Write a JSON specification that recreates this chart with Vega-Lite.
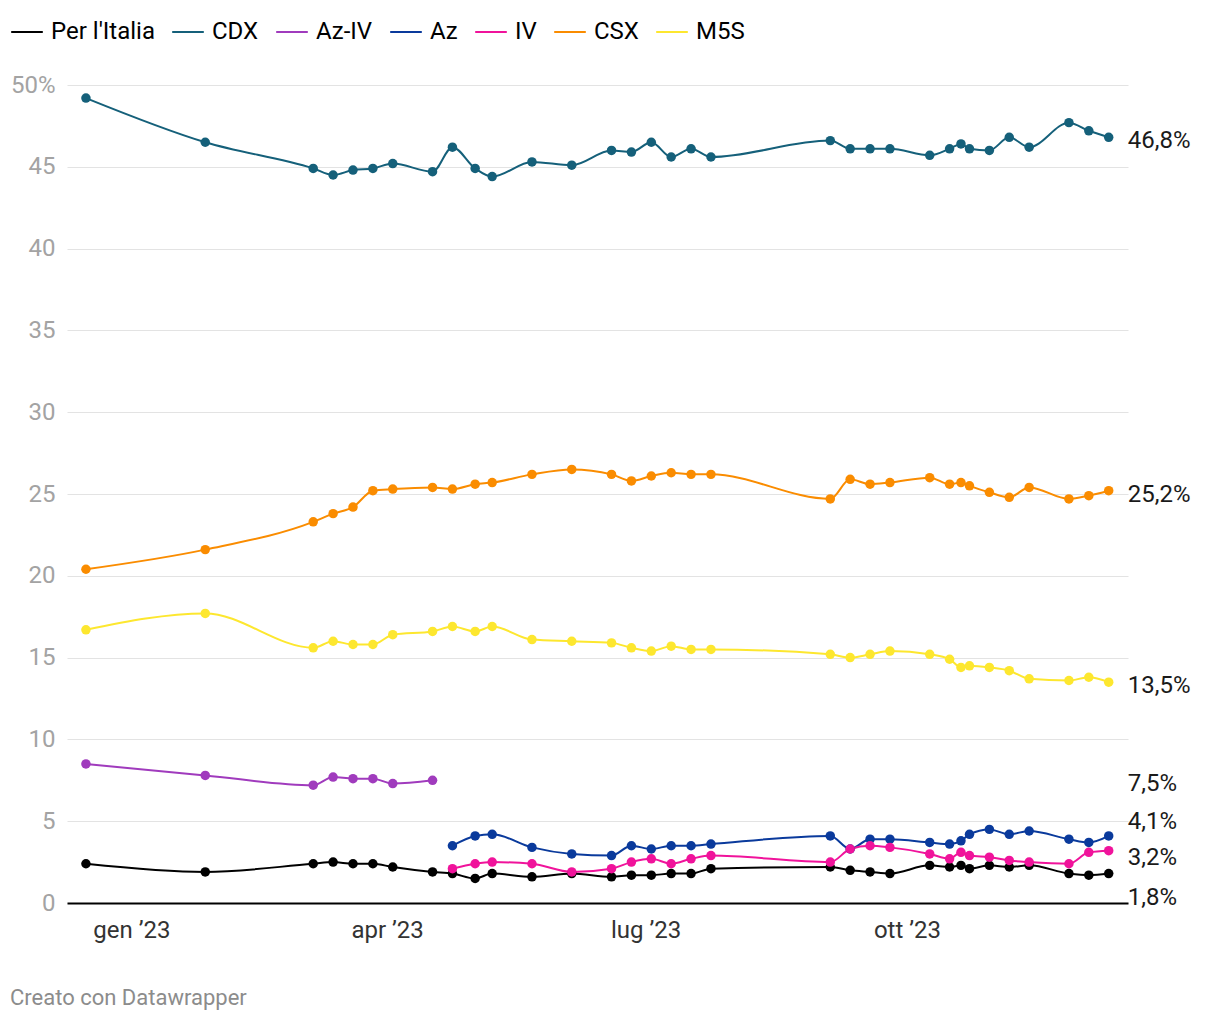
{
"$schema": "https://vega.github.io/schema/vega-lite/v6.json",
"width": 1061, "height": 818,
"autosize": {"type": "none"},
"padding": {"left": 67, "top": 85, "right": 92, "bottom": 117},
"background": "#ffffff",
"title": {"text": "Creato con Datawrapper", "orient": "bottom", "anchor": "start", "frame": "bounds", "fontSize": 22, "fontWeight": "normal", "color": "#8c8c8c", "font": "Roboto", "offset": 46},
"data": {"values": [
{"d":"2022-12-16","s":"Per l'Italia","v":2.4},{"d":"2023-01-27","s":"Per l'Italia","v":1.9},{"d":"2023-03-06","s":"Per l'Italia","v":2.4},{"d":"2023-03-13","s":"Per l'Italia","v":2.5},{"d":"2023-03-20","s":"Per l'Italia","v":2.4},{"d":"2023-03-27","s":"Per l'Italia","v":2.4},{"d":"2023-04-03","s":"Per l'Italia","v":2.2},{"d":"2023-04-17","s":"Per l'Italia","v":1.9},{"d":"2023-04-24","s":"Per l'Italia","v":1.8},{"d":"2023-05-02","s":"Per l'Italia","v":1.5},{"d":"2023-05-08","s":"Per l'Italia","v":1.8},{"d":"2023-05-22","s":"Per l'Italia","v":1.6},{"d":"2023-06-05","s":"Per l'Italia","v":1.8},{"d":"2023-06-19","s":"Per l'Italia","v":1.6},{"d":"2023-06-26","s":"Per l'Italia","v":1.7},{"d":"2023-07-03","s":"Per l'Italia","v":1.7},{"d":"2023-07-10","s":"Per l'Italia","v":1.8},{"d":"2023-07-17","s":"Per l'Italia","v":1.8},{"d":"2023-07-24","s":"Per l'Italia","v":2.1},{"d":"2023-09-04","s":"Per l'Italia","v":2.2},{"d":"2023-09-11","s":"Per l'Italia","v":2.0},{"d":"2023-09-18","s":"Per l'Italia","v":1.9},{"d":"2023-09-25","s":"Per l'Italia","v":1.8},{"d":"2023-10-09","s":"Per l'Italia","v":2.3},{"d":"2023-10-16","s":"Per l'Italia","v":2.2},{"d":"2023-10-20","s":"Per l'Italia","v":2.3},{"d":"2023-10-23","s":"Per l'Italia","v":2.1},{"d":"2023-10-30","s":"Per l'Italia","v":2.3},{"d":"2023-11-06","s":"Per l'Italia","v":2.2},{"d":"2023-11-13","s":"Per l'Italia","v":2.3},{"d":"2023-11-27","s":"Per l'Italia","v":1.8},{"d":"2023-12-04","s":"Per l'Italia","v":1.7},{"d":"2023-12-11","s":"Per l'Italia","v":1.8},
{"d":"2022-12-16","s":"CDX","v":49.2},{"d":"2023-01-27","s":"CDX","v":46.5},{"d":"2023-03-06","s":"CDX","v":44.9},{"d":"2023-03-13","s":"CDX","v":44.5},{"d":"2023-03-20","s":"CDX","v":44.8},{"d":"2023-03-27","s":"CDX","v":44.9},{"d":"2023-04-03","s":"CDX","v":45.2},{"d":"2023-04-17","s":"CDX","v":44.7},{"d":"2023-04-24","s":"CDX","v":46.2},{"d":"2023-05-02","s":"CDX","v":44.9},{"d":"2023-05-08","s":"CDX","v":44.4},{"d":"2023-05-22","s":"CDX","v":45.3},{"d":"2023-06-05","s":"CDX","v":45.1},{"d":"2023-06-19","s":"CDX","v":46.0},{"d":"2023-06-26","s":"CDX","v":45.9},{"d":"2023-07-03","s":"CDX","v":46.5},{"d":"2023-07-10","s":"CDX","v":45.6},{"d":"2023-07-17","s":"CDX","v":46.1},{"d":"2023-07-24","s":"CDX","v":45.6},{"d":"2023-09-04","s":"CDX","v":46.6},{"d":"2023-09-11","s":"CDX","v":46.1},{"d":"2023-09-18","s":"CDX","v":46.1},{"d":"2023-09-25","s":"CDX","v":46.1},{"d":"2023-10-09","s":"CDX","v":45.7},{"d":"2023-10-16","s":"CDX","v":46.1},{"d":"2023-10-20","s":"CDX","v":46.4},{"d":"2023-10-23","s":"CDX","v":46.1},{"d":"2023-10-30","s":"CDX","v":46.0},{"d":"2023-11-06","s":"CDX","v":46.8},{"d":"2023-11-13","s":"CDX","v":46.2},{"d":"2023-11-27","s":"CDX","v":47.7},{"d":"2023-12-04","s":"CDX","v":47.2},{"d":"2023-12-11","s":"CDX","v":46.8},
{"d":"2022-12-16","s":"Az-IV","v":8.5},{"d":"2023-01-27","s":"Az-IV","v":7.8},{"d":"2023-03-06","s":"Az-IV","v":7.2},{"d":"2023-03-13","s":"Az-IV","v":7.7},{"d":"2023-03-20","s":"Az-IV","v":7.6},{"d":"2023-03-27","s":"Az-IV","v":7.6},{"d":"2023-04-03","s":"Az-IV","v":7.3},{"d":"2023-04-17","s":"Az-IV","v":7.5},
{"d":"2023-04-24","s":"Az","v":3.5},{"d":"2023-05-02","s":"Az","v":4.1},{"d":"2023-05-08","s":"Az","v":4.2},{"d":"2023-05-22","s":"Az","v":3.4},{"d":"2023-06-05","s":"Az","v":3.0},{"d":"2023-06-19","s":"Az","v":2.9},{"d":"2023-06-26","s":"Az","v":3.5},{"d":"2023-07-03","s":"Az","v":3.3},{"d":"2023-07-10","s":"Az","v":3.5},{"d":"2023-07-17","s":"Az","v":3.5},{"d":"2023-07-24","s":"Az","v":3.6},{"d":"2023-09-04","s":"Az","v":4.1},{"d":"2023-09-11","s":"Az","v":3.3},{"d":"2023-09-18","s":"Az","v":3.9},{"d":"2023-09-25","s":"Az","v":3.9},{"d":"2023-10-09","s":"Az","v":3.7},{"d":"2023-10-16","s":"Az","v":3.6},{"d":"2023-10-20","s":"Az","v":3.8},{"d":"2023-10-23","s":"Az","v":4.2},{"d":"2023-10-30","s":"Az","v":4.5},{"d":"2023-11-06","s":"Az","v":4.2},{"d":"2023-11-13","s":"Az","v":4.4},{"d":"2023-11-27","s":"Az","v":3.9},{"d":"2023-12-04","s":"Az","v":3.7},{"d":"2023-12-11","s":"Az","v":4.1},
{"d":"2023-04-24","s":"IV","v":2.1},{"d":"2023-05-02","s":"IV","v":2.4},{"d":"2023-05-08","s":"IV","v":2.5},{"d":"2023-05-22","s":"IV","v":2.4},{"d":"2023-06-05","s":"IV","v":1.9},{"d":"2023-06-19","s":"IV","v":2.1},{"d":"2023-06-26","s":"IV","v":2.5},{"d":"2023-07-03","s":"IV","v":2.7},{"d":"2023-07-10","s":"IV","v":2.4},{"d":"2023-07-17","s":"IV","v":2.7},{"d":"2023-07-24","s":"IV","v":2.9},{"d":"2023-09-04","s":"IV","v":2.5},{"d":"2023-09-11","s":"IV","v":3.3},{"d":"2023-09-18","s":"IV","v":3.5},{"d":"2023-09-25","s":"IV","v":3.4},{"d":"2023-10-09","s":"IV","v":3.0},{"d":"2023-10-16","s":"IV","v":2.7},{"d":"2023-10-20","s":"IV","v":3.1},{"d":"2023-10-23","s":"IV","v":2.9},{"d":"2023-10-30","s":"IV","v":2.8},{"d":"2023-11-06","s":"IV","v":2.6},{"d":"2023-11-13","s":"IV","v":2.5},{"d":"2023-11-27","s":"IV","v":2.4},{"d":"2023-12-04","s":"IV","v":3.1},{"d":"2023-12-11","s":"IV","v":3.2},
{"d":"2022-12-16","s":"CSX","v":20.4},{"d":"2023-01-27","s":"CSX","v":21.6},{"d":"2023-03-06","s":"CSX","v":23.3},{"d":"2023-03-13","s":"CSX","v":23.8},{"d":"2023-03-20","s":"CSX","v":24.2},{"d":"2023-03-27","s":"CSX","v":25.2},{"d":"2023-04-03","s":"CSX","v":25.3},{"d":"2023-04-17","s":"CSX","v":25.4},{"d":"2023-04-24","s":"CSX","v":25.3},{"d":"2023-05-02","s":"CSX","v":25.6},{"d":"2023-05-08","s":"CSX","v":25.7},{"d":"2023-05-22","s":"CSX","v":26.2},{"d":"2023-06-05","s":"CSX","v":26.5},{"d":"2023-06-19","s":"CSX","v":26.2},{"d":"2023-06-26","s":"CSX","v":25.8},{"d":"2023-07-03","s":"CSX","v":26.1},{"d":"2023-07-10","s":"CSX","v":26.3},{"d":"2023-07-17","s":"CSX","v":26.2},{"d":"2023-07-24","s":"CSX","v":26.2},{"d":"2023-09-04","s":"CSX","v":24.7},{"d":"2023-09-11","s":"CSX","v":25.9},{"d":"2023-09-18","s":"CSX","v":25.6},{"d":"2023-09-25","s":"CSX","v":25.7},{"d":"2023-10-09","s":"CSX","v":26.0},{"d":"2023-10-16","s":"CSX","v":25.6},{"d":"2023-10-20","s":"CSX","v":25.7},{"d":"2023-10-23","s":"CSX","v":25.5},{"d":"2023-10-30","s":"CSX","v":25.1},{"d":"2023-11-06","s":"CSX","v":24.8},{"d":"2023-11-13","s":"CSX","v":25.4},{"d":"2023-11-27","s":"CSX","v":24.7},{"d":"2023-12-04","s":"CSX","v":24.9},{"d":"2023-12-11","s":"CSX","v":25.2},
{"d":"2022-12-16","s":"M5S","v":16.7},{"d":"2023-01-27","s":"M5S","v":17.7},{"d":"2023-03-06","s":"M5S","v":15.6},{"d":"2023-03-13","s":"M5S","v":16.0},{"d":"2023-03-20","s":"M5S","v":15.8},{"d":"2023-03-27","s":"M5S","v":15.8},{"d":"2023-04-03","s":"M5S","v":16.4},{"d":"2023-04-17","s":"M5S","v":16.6},{"d":"2023-04-24","s":"M5S","v":16.9},{"d":"2023-05-02","s":"M5S","v":16.6},{"d":"2023-05-08","s":"M5S","v":16.9},{"d":"2023-05-22","s":"M5S","v":16.1},{"d":"2023-06-05","s":"M5S","v":16.0},{"d":"2023-06-19","s":"M5S","v":15.9},{"d":"2023-06-26","s":"M5S","v":15.6},{"d":"2023-07-03","s":"M5S","v":15.4},{"d":"2023-07-10","s":"M5S","v":15.7},{"d":"2023-07-17","s":"M5S","v":15.5},{"d":"2023-07-24","s":"M5S","v":15.5},{"d":"2023-09-04","s":"M5S","v":15.2},{"d":"2023-09-11","s":"M5S","v":15.0},{"d":"2023-09-18","s":"M5S","v":15.2},{"d":"2023-09-25","s":"M5S","v":15.4},{"d":"2023-10-09","s":"M5S","v":15.2},{"d":"2023-10-16","s":"M5S","v":14.9},{"d":"2023-10-20","s":"M5S","v":14.4},{"d":"2023-10-23","s":"M5S","v":14.5},{"d":"2023-10-30","s":"M5S","v":14.4},{"d":"2023-11-06","s":"M5S","v":14.2},{"d":"2023-11-13","s":"M5S","v":13.7},{"d":"2023-11-27","s":"M5S","v":13.6},{"d":"2023-12-04","s":"M5S","v":13.8},{"d":"2023-12-11","s":"M5S","v":13.5}
]},
"encoding": {
  "x": {"field": "d", "type": "temporal", "title": null,
        "scale": {"type": "utc", "domain": [{"year": 2022, "month": 12, "date": 9, "hours": 8, "utc": true}, {"year": 2023, "month": 12, "date": 17, "hours": 19, "utc": true}]},
        "axis": {"values": [{"year": 2023, "month": 1, "date": 1, "utc": true}, {"year": 2023, "month": 4, "date": 1, "utc": true}, {"year": 2023, "month": 7, "date": 1, "utc": true}, {"year": 2023, "month": 10, "date": 1, "utc": true}],
                 "labelExpr": "['gen','feb','mar','apr','mag','giu','lug','ago','set','ott','nov','dic'][utcmonth(datum.value)] + ' ’' + utcFormat(datum.value, '%y')",
                 "grid": false, "ticks": false, "domain": true, "domainColor": "#000000", "domainWidth": 2,
                 "labelFontSize": 24, "labelColor": "#333333", "labelPadding": 15, "labelFont": "Roboto"}},
  "y": {"field": "v", "type": "quantitative", "title": null,
        "scale": {"domain": [0, 50], "nice": false},
        "axis": {"values": [0, 5, 10, 15, 20, 25, 30, 35, 40, 45, 50],
                 "labelExpr": "datum.value == 50 ? '50%' : datum.label",
                 "grid": true, "gridColor": "#e3e3e3", "gridWidth": 1, "ticks": false, "domain": false,
                 "labelFontSize": 24, "labelColor": "#a3a3a3", "labelPadding": 12, "labelFont": "Roboto"}}
},
"layer": [
  {"mark": {"type": "line", "interpolate": "monotone", "strokeWidth": 2},
   "encoding": {"color": {"field": "s", "type": "nominal",
      "scale": {"domain": ["Per l'Italia", "CDX", "Az-IV", "Az", "IV", "CSX", "M5S"], "range": ["#000000", "#15607a", "#a03bbd", "#0a3a9c", "#f0139b", "#fa8c00", "#fde72f"]},
      "legend": {"orient": "none", "legendX": -57, "legendY": -70, "direction": "horizontal", "title": null,
                 "symbolType": "stroke", "symbolSize": 1000, "symbolStrokeWidth": 2, "labelFontSize": 24, "labelColor": "#000000",
                 "labelFont": "Roboto", "labelOffset": 7, "columnPadding": 13, "padding": 0}}}},
  {"mark": {"type": "circle", "size": 90, "opacity": 1},
   "encoding": {"fill": {"field": "s", "type": "nominal",
      "scale": {"domain": ["Per l'Italia", "CDX", "Az-IV", "Az", "IV", "CSX", "M5S"], "range": ["#000000", "#15607a", "#a03bbd", "#0a3a9c", "#f0139b", "#fa8c00", "#fde72f"]},
      "legend": null}}},
  {"transform": [
      {"joinaggregate": [{"op": "max", "field": "d", "as": "md"}]},
      {"aggregate": [{"op": "argmax", "field": "d", "as": "last"}, {"op": "max", "field": "md", "as": "mx"}], "groupby": ["s"]},
      {"calculate": "datum.last.v", "as": "lv"},
      {"calculate": "replace(format(datum.last.v, '.1f'), '.', ',') + '%'", "as": "lab"}
    ],
   "encoding": {"x": {"field": "mx", "type": "temporal"}, "y": {"field": "lv", "type": "quantitative"}, "text": {"field": "lab"}},
   "layer": [
     {"transform": [{"filter": {"field": "s", "oneOf": ["CDX", "CSX", "M5S", "Az-IV"]}}],
      "mark": {"type": "text", "align": "left", "baseline": "middle", "dx": 19, "dy": 4, "fontSize": 24, "font": "Roboto", "fill": "#1a1a1a"}},
     {"transform": [{"filter": {"field": "s", "equal": "Az"}}],
      "mark": {"type": "text", "align": "left", "baseline": "middle", "dx": 19, "dy": -14, "fontSize": 24, "font": "Roboto", "fill": "#1a1a1a"}},
     {"transform": [{"filter": {"field": "s", "equal": "IV"}}],
      "mark": {"type": "text", "align": "left", "baseline": "middle", "dx": 19, "dy": 7, "fontSize": 24, "font": "Roboto", "fill": "#1a1a1a"}},
     {"transform": [{"filter": {"field": "s", "equal": "Per l'Italia"}}],
      "mark": {"type": "text", "align": "left", "baseline": "middle", "dx": 19, "dy": 24, "fontSize": 24, "font": "Roboto", "fill": "#1a1a1a"}}
   ]}
],
"config": {"font": "Roboto", "view": {"stroke": null}}
}
